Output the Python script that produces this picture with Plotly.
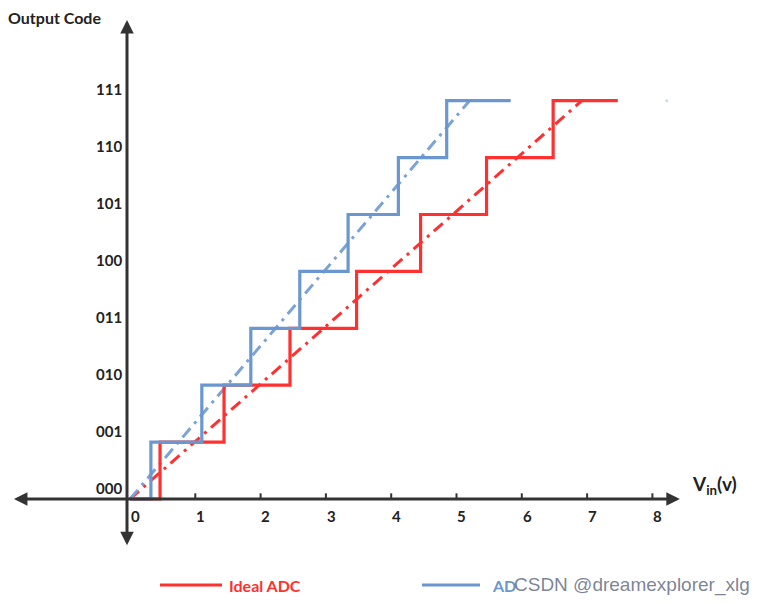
import plotly.graph_objects as go

# --- data ---
levels = [0, 1, 2, 3, 4, 5, 6, 7]
code_labels = ["000", "001", "010", "011", "100", "101", "110", "111"]
x_ticks = [0, 1, 2, 3, 4, 5, 6, 7, 8]

# transition voltages where the code steps up
ideal_edges = [0.46, 1.44, 2.45, 3.47, 4.45, 5.46, 6.48]
ideal_end = 7.47
offset_edges = [0.32, 1.10, 1.85, 2.60, 3.34, 4.11, 4.85]
offset_end = 5.83

# straight dash-dot transfer lines (start, end)
ideal_line_x = [0, 6.92]
ideal_line_y = [0, 7.0]
offset_line_x = [0, 5.20]
offset_line_y = [0, 7.0]

stray_x = [8.22]
stray_y = [7.0]

RED = "#FF3030"
BLUE = "#6A97CF"
AXIS = "#333333"
FONT = "Lato, Open Sans, sans-serif"

W, H = 757, 606
PAD = 8  # page body margin shifts the figure by this much


def staircase(edges, end):
    xs, ys = [0], [0]
    for i, e in enumerate(edges):
        xs += [e, e]
        ys += [levels[i], levels[i + 1]]
    xs.append(end)
    ys.append(levels[len(edges)])
    return xs, ys


def px(x):
    return (x - PAD) / W


def py(y):
    return 1 - (y - PAD) / H


fig = go.Figure()

rx, ry = staircase(ideal_edges, ideal_end)
bx, by = staircase(offset_edges, offset_end)

fig.add_trace(go.Scatter(x=ideal_line_x, y=ideal_line_y, mode="lines",
                         line=dict(color=RED, width=3, dash="12px,6px,3px,6px")))
fig.add_trace(go.Scatter(x=offset_line_x, y=offset_line_y, mode="lines",
                         line=dict(color="#7BA3D6", width=3, dash="12px,6px,3px,6px")))
fig.add_trace(go.Scatter(x=rx, y=ry, mode="lines", line=dict(color=RED, width=3.2)))
fig.add_trace(go.Scatter(x=bx, y=by, mode="lines", line=dict(color=BLUE, width=3.2)))
fig.add_trace(go.Scatter(x=stray_x, y=stray_y, mode="markers",
                         marker=dict(color="#C9D8EC", size=3)))

# pixel mapping: origin at (130, 499) on the page, 65.3 px per volt, 56.9 px per code
sx, sy = 65.3, 56.9
ox, oy = 130 - PAD, 499 - PAD
x_range = [-ox / sx, (W - ox) / sx]
y_range = [(oy - H) / sy, oy / sy]

# axes with arrows
fig.add_annotation(x=8.42, y=0, ax=-1.80, ay=0, axref="x", ayref="y", text="",
                   showarrow=True, arrowside="end+start", arrowhead=2,
                   arrowsize=0.9, arrowwidth=3, arrowcolor=AXIS)
fig.add_annotation(x=-0.046, y=8.42, ax=-0.046, ay=-0.84, axref="x", ayref="y", text="",
                   showarrow=True, arrowside="end+start", arrowhead=2,
                   arrowsize=0.9, arrowwidth=3, arrowcolor=AXIS)

# x tick marks and labels
for t in x_ticks:
    if t > 0:
        fig.add_shape(type="line", x0=t, x1=t, y0=0, y1=0.1,
                      line=dict(color=AXIS, width=2))
    fig.add_annotation(x=t + 0.08, y=-0.3, text=str(t), showarrow=False,
                       font=dict(family=FONT, size=15, color="#222", weight="bold"))

# y code labels
for lv, lab in zip(levels, code_labels):
    fig.add_annotation(x=-0.09, y=lv + 0.2, text=lab, showarrow=False, xanchor="right",
                       font=dict(family=FONT, size=15, color="#222", weight="bold"))

fig.add_annotation(x=px(6), y=py(18), xref="paper", yref="paper",
                   xanchor="left", yanchor="middle",
                   text="Output Code", showarrow=False,
                   font=dict(family=FONT, size=16, color="#222", weight="bold"))
fig.add_annotation(x=8.57, y=0.25, xanchor="left", text="V<sub>in</sub>(v)", showarrow=False,
                   font=dict(family=FONT, size=19, color="#222", weight="bold"))

# legend drawn by hand
ly = py(585)
fig.add_shape(type="line", xref="paper", yref="paper", x0=px(160), x1=px(222),
              y0=ly, y1=ly, line=dict(color=RED, width=3))
fig.add_annotation(x=px(227), y=ly, xref="paper", yref="paper",
                   xanchor="left", yanchor="middle",
                   text="Ideal ADC", showarrow=False,
                   font=dict(family=FONT, size=16, color=RED, weight="bold"))
fig.add_shape(type="line", xref="paper", yref="paper", x0=px(422), x1=px(480),
              y0=ly, y1=ly, line=dict(color=BLUE, width=3))
fig.add_annotation(x=px(490), y=ly, xref="paper", yref="paper",
                   xanchor="left", yanchor="middle",
                   text="AD", showarrow=False,
                   font=dict(family=FONT, size=16, color=BLUE, weight="bold"))
fig.add_annotation(x=px(512), y=ly, xref="paper", yref="paper",
                   xanchor="left", yanchor="middle",
                   text="CSDN @dreamexplorer_xlg", showarrow=False,
                   font=dict(family="Liberation Sans, Arial", size=19,
                             color="rgba(100,110,130,0.85)"))

fig.update_layout(
    width=W, height=H,
    margin=dict(l=0, r=0, t=0, b=0),
    paper_bgcolor="white", plot_bgcolor="white",
    showlegend=False,
    xaxis=dict(visible=False, range=x_range, fixedrange=True),
    yaxis=dict(visible=False, range=y_range, fixedrange=True),
)

fig.write_html("out.html")
